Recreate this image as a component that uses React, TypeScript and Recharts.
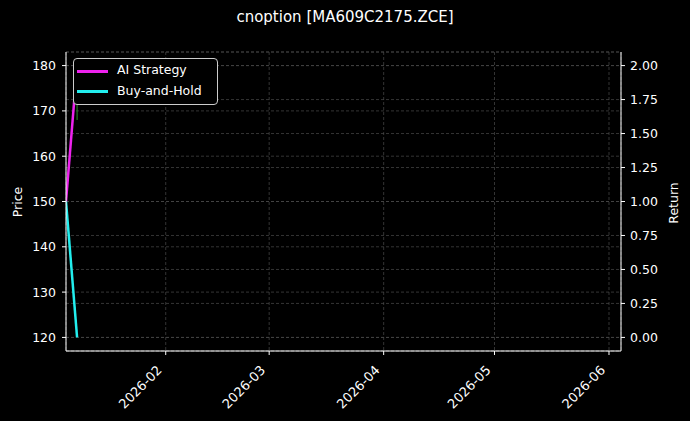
import React from 'react';
import { ComposedChart, Line, XAxis, YAxis, CartesianGrid } from 'recharts';

// returns, one point per trading day
const returnDates = ['2026-01-05', '2026-01-08'];
const aiStrategy = [1.0, 2.0];
const buyAndHold = [1.0, 0.0];

// thin price wick visible just under the legend
const priceDates = ['2026-01-08', '2026-01-08'];
const priceValues = [175, 168];

const monthTicks = ['2026-02-01', '2026-03-01', '2026-04-01', '2026-05-01', '2026-06-01'];
const priceTicks = [120, 130, 140, 150, 160, 170, 180];
const returnTicks = [0, 0.25, 0.5, 0.75, 1.0, 1.25, 1.5, 1.75, 2.0];

const toTs = (d: string) => Date.parse(d + 'T00:00:00Z');

const returnData = returnDates.map((d, i) => ({ t: toTs(d), ai: aiStrategy[i], bh: buyAndHold[i] }));
const priceData = priceDates.map((d, i) => ({ t: toTs(d), price: priceValues[i] }));
const xTicks = monthTicks.map(toTs);
const xDomain = [toTs('2026-01-05'), toTs('2026-06-04') + 6 * 3600 * 1000];

const FONT = '"DejaVu Sans", sans-serif';
const AI_COLOR = '#ee22ee';
const BH_COLOR = '#22eeee';

const fmtMonth = (v: number) => {
    const d = new Date(v);
    return `${d.getUTCFullYear()}-${String(d.getUTCMonth() + 1).padStart(2, '0')}`;
};

const MonthTick = (props: any) => {
    const { x, y, payload } = props;
    const ax = x - 3;
    const ay = y + 16;
    return (
        <text
            x={ax}
            y={ay}
            transform={`rotate(-45, ${ax}, ${ay})`}
            textAnchor="end"
            fill="#fff"
            fontSize={13}
            fontFamily={FONT}
        >
            {fmtMonth(payload.value)}
        </text>
    );
};

export default function App() {
    const tickStyle = { fill: '#fff', fontSize: 12.5, fontFamily: FONT };
    return (
        <div style={{ position: 'relative', width: 690, height: 421, background: '#000', fontFamily: FONT, color: '#fff' }}>
            <style>{`body{margin:0;background:#000}`}</style>

            <div style={{ position: 'absolute', left: 0, width: 690, top: 8, textAlign: 'center', fontSize: 15 }}>
                cnoption [MA609C2175.ZCE]
            </div>

            <ComposedChart width={690} height={421} margin={{ top: 52, right: 9, bottom: 0, left: 8 }}>
                <CartesianGrid xAxisId="x" yAxisId="left" stroke="#4a4a4a" strokeDasharray="3 2" strokeWidth={0.7} />
                <CartesianGrid xAxisId="x" yAxisId="right" vertical={false} stroke="#4a4a4a" strokeDasharray="3 2" strokeWidth={0.7} />
                <XAxis
                    xAxisId="x"
                    type="number"
                    dataKey="t"
                    domain={xDomain}
                    ticks={xTicks}
                    allowDataOverflow
                    height={70}
                    axisLine={{ stroke: '#fff' }}
                    tickLine={{ stroke: '#fff' }}
                    tickSize={4}
                    tickMargin={0}
                    tick={<MonthTick />}
                    interval={0}
                />
                <XAxis
                    xAxisId="top"
                    orientation="top"
                    type="number"
                    domain={xDomain}
                    height={0}
                    tick={false}
                    tickLine={false}
                    axisLine={{ stroke: '#fff' }}
                />
                <YAxis
                    yAxisId="left"
                    orientation="left"
                    type="number"
                    domain={[117, 183]}
                    ticks={priceTicks}
                    allowDataOverflow
                    width={58}
                    axisLine={{ stroke: '#fff' }}
                    tickLine={{ stroke: '#fff' }}
                    tickSize={4}
                    tickMargin={6}
                    tick={tickStyle}
                    interval={0}
                />
                <YAxis
                    yAxisId="right"
                    orientation="right"
                    type="number"
                    domain={[-0.1, 2.1]}
                    ticks={returnTicks}
                    allowDataOverflow
                    width={60}
                    axisLine={{ stroke: '#fff' }}
                    tickLine={{ stroke: '#fff' }}
                    tickSize={4}
                    tickMargin={5}
                    tick={tickStyle}
                    tickFormatter={(v: number) => v.toFixed(2)}
                    interval={0}
                />
                <Line
                    xAxisId="x"
                    yAxisId="left"
                    data={priceData}
                    dataKey="price"
                    stroke="#2f8f2f"
                    strokeWidth={1}
                    dot={false}
                    isAnimationActive={false}
                />
                <Line
                    xAxisId="x"
                    yAxisId="right"
                    data={returnData}
                    dataKey="ai"
                    stroke={AI_COLOR}
                    strokeWidth={2.5}
                    dot={false}
                    isAnimationActive={false}
                />
                <Line
                    xAxisId="x"
                    yAxisId="right"
                    data={returnData}
                    dataKey="bh"
                    stroke={BH_COLOR}
                    strokeWidth={2.5}
                    dot={false}
                    isAnimationActive={false}
                />
            </ComposedChart>

            {/* legend */}
            <div
                style={{
                    position: 'absolute', left: 73, top: 58, width: 143, height: 45,
                    border: '1px solid #cccccc', borderRadius: 4, background: '#000', fontSize: 12.5,
                }}
            >
                <div style={{ position: 'absolute', left: 3, top: 10.5, width: 31, height: 3, background: AI_COLOR }} />
                <div style={{ position: 'absolute', left: 43, top: 3, lineHeight: '16px' }}>AI Strategy</div>
                <div style={{ position: 'absolute', left: 3, top: 31, width: 31, height: 3, background: BH_COLOR }} />
                <div style={{ position: 'absolute', left: 43, top: 23.5, lineHeight: '16px' }}>Buy-and-Hold</div>
            </div>

            <div style={{ position: 'absolute', left: 17, top: 202, fontSize: 12.5, transform: 'translate(-50%, -50%) rotate(-90deg)' }}>
                Price
            </div>
            <div style={{ position: 'absolute', left: 673, top: 203, fontSize: 12.5, transform: 'translate(-50%, -50%) rotate(-90deg)' }}>
                Return
            </div>
        </div>
    );
}
